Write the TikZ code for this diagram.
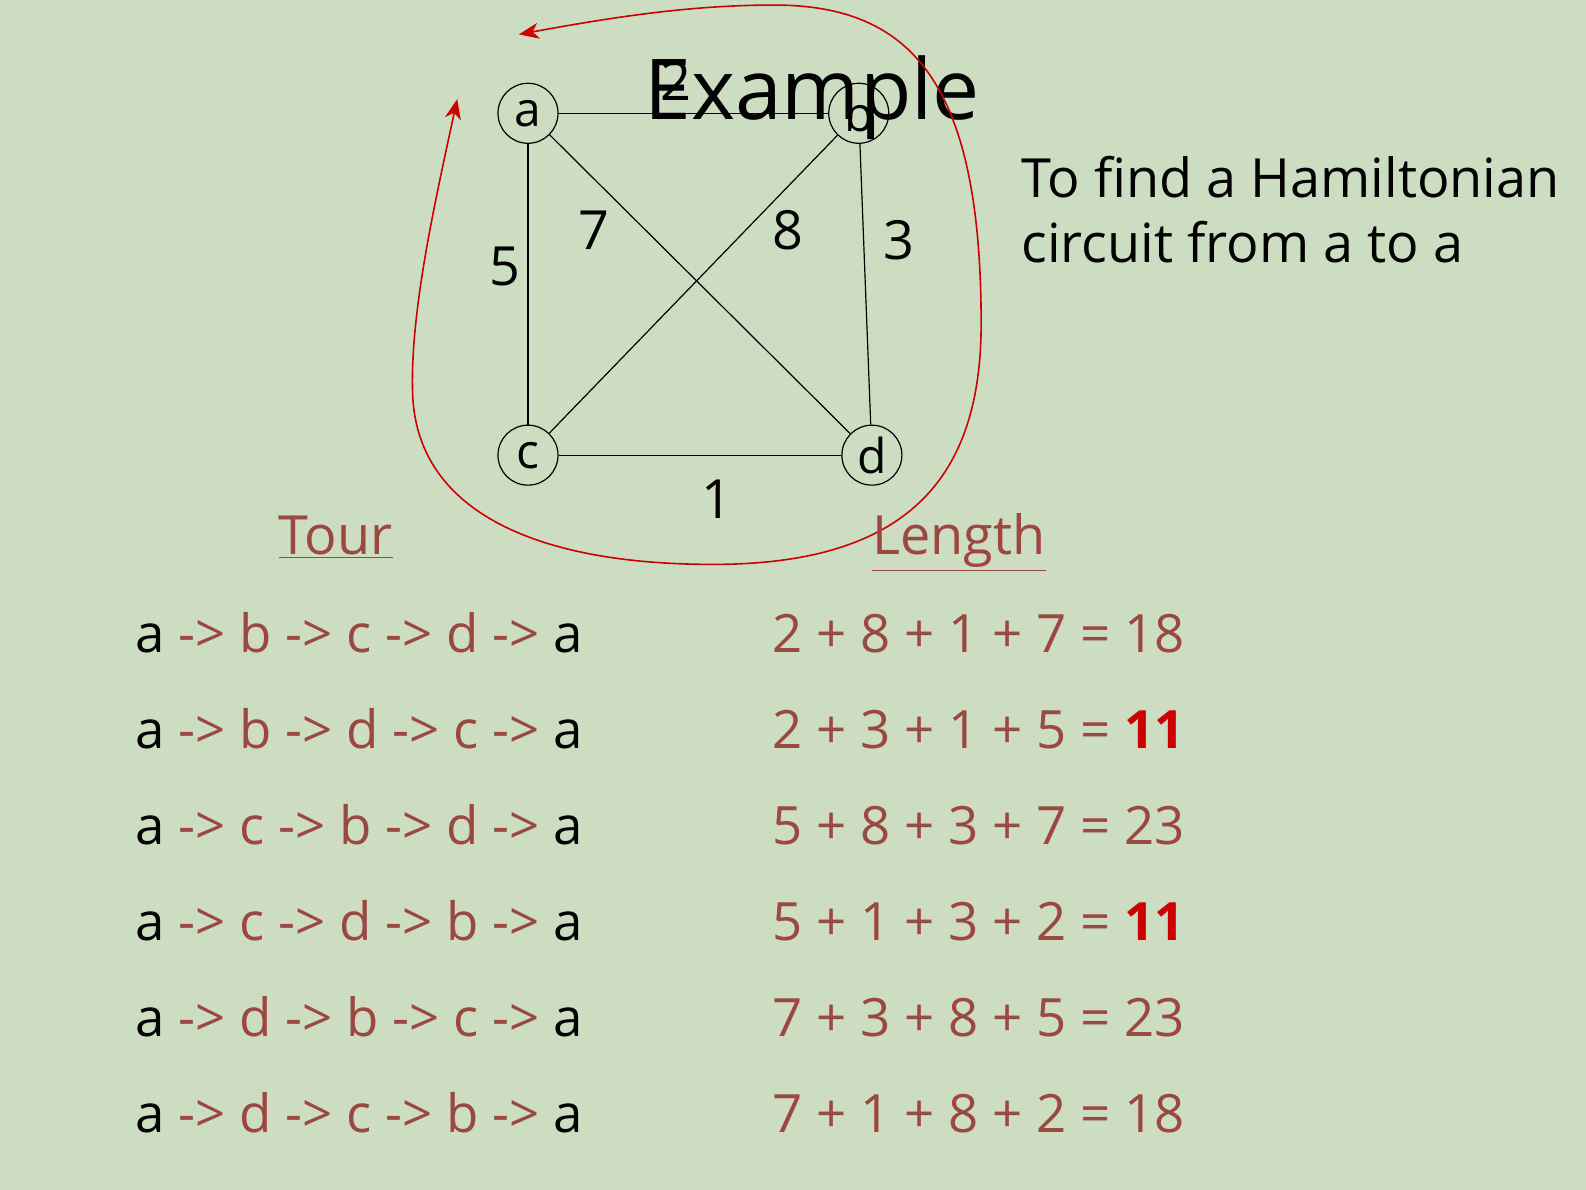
\documentclass[tikz,border=0pt]{standalone}
\usepackage{fontspec}
\setmainfont{Open Sans}
\usetikzlibrary{arrows.meta}
\definecolor{slidebg}{HTML}{CDDDC2}
\definecolor{tourbrown}{HTML}{9B4840}
\definecolor{bestred}{HTML}{CC0000}
\newcommand{\tourrow}[3]{a \textcolor{tourbrown}{-> #1 -> #2 -> #3 ->} a}
\newcommand{\best}[1]{\textcolor{bestred}{\bfseries #1}}

\begin{document}
\begin{tikzpicture}[x=0.5057pt,y=-0.5057pt,
    vertex/.style={draw,circle,line width=0.6pt,minimum size=30pt,inner sep=0pt,
        font=\fontsize{24}{24}\selectfont},
    weight/.style={font=\fontsize{27}{27}\selectfont},
    row/.style={anchor=base west,font=\fontsize{26.4}{26.4}\selectfont},
    head/.style={anchor=base,text=tourbrown,font=\fontsize{27}{27}\selectfont},
    edge/.style={line width=0.6pt},
    circuit/.style={draw=bestred,line width=0.8pt}]
        \fill[slidebg] (0,0) rectangle (1568,1176.5);
        \useasboundingbox (0,0) rectangle (1568,1176.5);
        % graph
        \node[vertex] (a) at(522, 112){a};
        \node[vertex] (b) at(849, 112){b};
        \node[vertex] (c) at(522, 450){c};
        \node[vertex] (d) at(862, 450){d};
        \draw[edge] (a) -- (b);
            \node[weight] (wab) at(668, 80){2};
        \draw[edge] (a) -- (c);
            \node[weight] (wac) at(499, 263){5};
        \draw[edge] (a) -- (d);
            \node[weight] (wad) at(587, 228){7};
        \draw[edge] (b) -- (c);
            \node[weight] (wbc) at(779, 228){8};
        \draw[edge] (b) -- (d);
            \node[weight] (wbd) at(889, 237){3};
        \draw[edge] (c) -- (d);
            \node[weight] (wcd) at(709, 494){1};
        \node[anchor=base,font=\fontsize{42}{42}\selectfont] (title) at(803, 118){Example};
        % circuit round the graph
        \coordinate (tipL) at(452, 98);
        \coordinate (tipT) at(513, 34);
        \draw[circuit,{Stealth[length=10pt,width=8pt,inset=3pt]}-{Stealth[length=10pt,width=8pt,inset=3pt]}]
            (tipL) .. controls (430,200) and (405,310) .. (408,390)
            .. controls (412,500) and (520,558) .. (705,558)
            .. controls (900,558) and (970,470) .. (970,320)
            .. controls (970,80) and (900,5) .. (765,5)
            .. controls (680,5) and (600,18) .. (tipT);
        \node[row,font=\fontsize{27}{27}\selectfont] (goal1) at(1003, 195){To find a Hamiltonian};
        \node[row,font=\fontsize{27}{27}\selectfont] (goal2) at(1003, 260){circuit from a to a};
        % table
        \node[head] (tour) at(332, 548){\underline{Tour}};
        \node[head] (length) at(948, 548){\underline{Length}};
        \node[row] (t1) at(127, 645){\tourrow{b}{c}{d}};
        \node[row] (t2) at(127, 740){\tourrow{b}{d}{c}};
        \node[row] (t3) at(127, 835){\tourrow{c}{b}{d}};
        \node[row] (t4) at(127, 930){\tourrow{c}{d}{b}};
        \node[row] (t5) at(127, 1025){\tourrow{d}{b}{c}};
        \node[row] (t6) at(127, 1120){\tourrow{d}{c}{b}};
        \node[row,text=tourbrown] (l1) at(757, 645){2 + 8 + 1 + 7 = 18};
        \node[row,text=tourbrown] (l2) at(757, 740){2 + 3 + 1 + 5 = \best{11}};
        \node[row,text=tourbrown] (l3) at(757, 835){5 + 8 + 3 + 7 = 23};
        \node[row,text=tourbrown] (l4) at(757, 930){5 + 1 + 3 + 2 = \best{11}};
        \node[row,text=tourbrown] (l5) at(757, 1025){7 + 3 + 8 + 5 = 23};
        \node[row,text=tourbrown] (l6) at(757, 1120){7 + 1 + 8 + 2 = 18};
\end{tikzpicture}
\end{document}
